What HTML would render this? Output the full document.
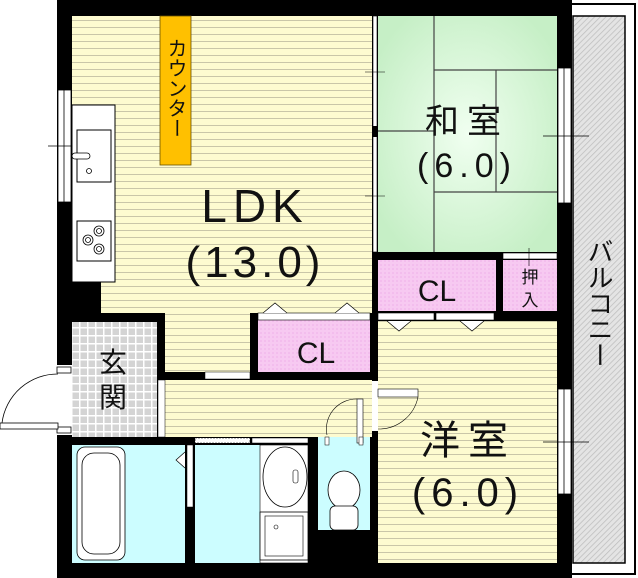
<!DOCTYPE html>
<html><head><meta charset="utf-8"><style>
html,body{margin:0;padding:0;background:#fff}
svg{display:block}
text{font-family:"Liberation Sans","Noto Sans CJK JP",sans-serif;fill:#111}
</style></head><body>
<svg width="638" height="578" viewBox="0 0 638 578" xmlns="http://www.w3.org/2000/svg">
<defs>
<pattern id="st" width="8" height="7" patternUnits="userSpaceOnUse">
<rect width="8" height="7" fill="#fdfbd0"/><line x1="0" y1="6.5" x2="8" y2="6.5" stroke="#c9c6a8" stroke-width="1"/></pattern>
<pattern id="tile" width="8" height="8" patternUnits="userSpaceOnUse">
<rect width="8" height="8" fill="#fff"/><rect x="0.5" y="0.5" width="6.5" height="6.5" fill="#d4d4d4"/></pattern>
<pattern id="pk" width="4" height="4" patternUnits="userSpaceOnUse">
<rect width="4" height="4" fill="#f7c9f1"/><rect width="2" height="2" fill="#f3bded"/></pattern>
<pattern id="hatch" width="4" height="4" patternUnits="userSpaceOnUse" patternTransform="rotate(45)">
<rect width="4" height="4" fill="#e4e4e4"/><line x1="0" y1="0" x2="0" y2="4" stroke="#bdbdbd" stroke-width="1.5"/></pattern>
<radialGradient id="tg" cx="0.5" cy="0.5" r="0.6"><stop offset="0" stop-color="#f0fff0"/><stop offset="1" stop-color="#c6efc6"/></radialGradient>
</defs>

<rect x="561" y="4" width="74" height="570" fill="#fff" stroke="#000" stroke-width="2"/>
<rect x="573" y="16" width="52" height="547" fill="url(#hatch)" stroke="#000" stroke-width="1.5"/>
<text x="599" y="238" font-size="26" style="writing-mode:vertical-rl" text-anchor="start">バルコニー</text>

<rect x="57" y="0" width="515" height="578" fill="#000"/>

<rect x="72" y="16" width="300" height="266" fill="url(#st)"/>
<rect x="101" y="282" width="271" height="31" fill="url(#st)"/>
<rect x="165" y="313" width="85" height="59" fill="url(#st)"/>
<rect x="165" y="380" width="207" height="57" fill="url(#st)"/>
<rect x="205" y="372" width="45" height="7" fill="#fff" stroke="#000" stroke-width="0.5"/>
<rect x="160" y="16" width="31" height="149" fill="#ffc000" stroke="#6a5200" stroke-width="0.8"/>
<text x="175" y="38" font-size="20" style="writing-mode:vertical-rl" text-anchor="start">カウンター</text>
<rect x="72" y="105" width="43" height="177" fill="#fff" stroke="#000" stroke-width="1"/>
<rect x="77" y="130" width="34" height="52" fill="#fff" stroke="#000" stroke-width="1"/>
<rect x="72" y="153" width="18" height="6" rx="3" fill="#fff" stroke="#000" stroke-width="0.8"/>
<circle cx="89" cy="171" r="2.5" fill="#fff" stroke="#000" stroke-width="0.8"/>
<rect x="77" y="221" width="34" height="40" fill="#fff" stroke="#000" stroke-width="1"/>
<g fill="none" stroke="#000" stroke-width="0.8">
<circle cx="88" cy="240" r="5"/><circle cx="88" cy="240" r="2.5"/>
<circle cx="99" cy="231" r="5"/><circle cx="99" cy="231" r="2.5"/>
<circle cx="99" cy="249" r="5"/><circle cx="99" cy="249" r="2.5"/></g>
<rect x="58" y="90" width="13" height="112" fill="#fff" stroke="#000" stroke-width="0.8"/>
<line x1="64" y1="90" x2="64" y2="202" stroke="#000" stroke-width="0.8"/>
<line x1="48" y1="146" x2="72" y2="146" stroke="#000" stroke-width="0.8"/>

<text x="255" y="222" font-size="46" text-anchor="middle" letter-spacing="6">LDK</text>
<text x="255" y="277" font-size="44" text-anchor="middle" letter-spacing="4">(13.0)</text>

<rect x="72" y="322" width="85" height="115" fill="url(#tile)"/>
<text x="113" y="372" font-size="28" text-anchor="middle">玄</text>
<text x="113" y="407" font-size="28" text-anchor="middle">関</text>
<rect x="57" y="365" width="15" height="70" fill="#fff"/>
<rect x="57" y="367" width="14" height="6" fill="#fff" stroke="#000" stroke-width="0.8"/>
<rect x="57" y="427" width="14" height="6" fill="#fff" stroke="#000" stroke-width="0.8"/>
<rect x="0" y="423" width="58" height="6" fill="#fff" stroke="#000" stroke-width="0.8"/>
<path d="M2 423 A56 56 0 0 1 58 374" fill="none" stroke="#000" stroke-width="0.8"/>
<rect x="158" y="380" width="7" height="57" fill="#fff" stroke="#000" stroke-width="0.5"/>

<rect x="258" y="320" width="112" height="52" fill="url(#pk)"/>
<rect x="258" y="313" width="112" height="7" fill="#fff" stroke="#000" stroke-width="0.6"/>
<path d="M263 313 l12 -10 l12 10 M335 313 l12 -10 l12 10" fill="#fff" stroke="#000" stroke-width="0.7"/>
<text x="316" y="363" font-size="30" text-anchor="middle">CL</text>

<rect x="378" y="16" width="179" height="236" fill="url(#tg)"/>
<g stroke="#444" stroke-width="1.2" fill="none">
<line x1="434" y1="16" x2="434" y2="252"/>
<line x1="378" y1="131" x2="434" y2="131"/>
<line x1="434" y1="70" x2="557" y2="70"/>
<line x1="496" y1="70" x2="496" y2="192"/>
<line x1="434" y1="192" x2="557" y2="192"/>
</g>
<rect x="373" y="16" width="4" height="236" fill="#fff" stroke="#000" stroke-width="0.6"/>
<rect x="372" y="126" width="6" height="11" fill="#000"/>
<line x1="365" y1="72" x2="385" y2="72" stroke="#000" stroke-width="0.6"/>
<line x1="365" y1="196" x2="385" y2="196" stroke="#000" stroke-width="0.6"/>
<text x="467" y="133" font-size="34" text-anchor="middle" letter-spacing="8">和室</text>
<text x="467" y="177" font-size="34" text-anchor="middle" letter-spacing="6">(6.0)</text>
<rect x="558" y="68" width="13" height="135" fill="#fff" stroke="#000" stroke-width="0.8"/>
<line x1="564" y1="68" x2="564" y2="203" stroke="#000" stroke-width="0.8"/>
<line x1="543" y1="136" x2="589" y2="136" stroke="#000" stroke-width="0.8"/>

<rect x="378" y="260" width="118" height="51" fill="url(#pk)"/>
<text x="437" y="301" font-size="30" text-anchor="middle">CL</text>
<rect x="503" y="260" width="54" height="51" fill="url(#pk)"/>
<rect x="503" y="253" width="54" height="6" fill="#fff" stroke="#000" stroke-width="0.6"/>
<line x1="529" y1="248" x2="529" y2="266" stroke="#000" stroke-width="0.6"/>
<text x="530" y="283" font-size="17" text-anchor="middle">押</text>
<text x="530" y="306" font-size="17" text-anchor="middle">入</text>

<rect x="378" y="321" width="179" height="242" fill="url(#st)"/>
<rect x="378" y="313" width="56" height="7" fill="#fff" stroke="#000" stroke-width="0.6"/>
<rect x="436" y="313" width="58" height="7" fill="#fff" stroke="#000" stroke-width="0.6"/>
<path d="M387 321 l12 10 l12 -10 M460 321 l12 10 l12 -10" fill="#fff" stroke="#000" stroke-width="0.7"/>
<text x="468" y="454" font-size="40" text-anchor="middle" letter-spacing="8">洋室</text>
<text x="468" y="506" font-size="40" text-anchor="middle" letter-spacing="6">(6.0)</text>
<rect x="558" y="389" width="13" height="105" fill="#fff" stroke="#000" stroke-width="0.8"/>
<line x1="564" y1="389" x2="564" y2="494" stroke="#000" stroke-width="0.8"/>
<line x1="543" y1="442" x2="589" y2="442" stroke="#000" stroke-width="0.8"/>
<rect x="372" y="381" width="6" height="50" fill="#fff"/>
<rect x="378" y="389" width="40" height="8" fill="#fff" stroke="#000" stroke-width="0.6"/>
<path d="M418 397 A40 40 0 0 1 378 429" fill="none" stroke="#000" stroke-width="0.6"/>

<rect x="72" y="445" width="113" height="118" fill="#ccfdff"/>
<rect x="77" y="447" width="48" height="113" rx="8" fill="#fff" stroke="#000" stroke-width="0.8"/>
<rect x="82" y="453" width="38" height="101" rx="12" fill="#fff" stroke="#000" stroke-width="0.8"/>
<path d="M185 452 l-9 8 l9 8" fill="#fff" stroke="#000" stroke-width="0.7"/>
<rect x="187" y="445" width="6" height="62" fill="#fff" stroke="#000" stroke-width="0.5"/>
<rect x="195" y="445" width="113" height="118" fill="#ccfdff"/>
<rect x="195" y="438" width="55" height="5" fill="#fff" stroke="#000" stroke-width="0.6" stroke-dasharray="2 1"/>
<rect x="252" y="438" width="56" height="5" fill="#fff" stroke="#000" stroke-width="0.5"/>
<rect x="260" y="445" width="48" height="118" fill="#fff" stroke="#000" stroke-width="0.6"/>
<ellipse cx="285" cy="477" rx="22" ry="30" fill="#fff" stroke="#000" stroke-width="0.8"/>
<rect x="293" y="470" width="5" height="13" rx="2" fill="#fff" stroke="#000" stroke-width="0.6"/>
<rect x="260" y="512" width="48" height="48" fill="#fff" stroke="#000" stroke-width="0.8"/>
<rect x="265" y="516" width="38" height="40" fill="none" stroke="#000" stroke-width="0.6"/>
<circle cx="276" cy="527" r="2" fill="none" stroke="#000" stroke-width="0.6"/>
<rect x="318" y="445" width="52" height="85" fill="#ccfdff"/>
<rect x="318" y="437" width="52" height="9" fill="#ccfdff"/>
<ellipse cx="344" cy="490" rx="16" ry="19" fill="#fff" stroke="#000" stroke-width="0.8"/>
<rect x="330" y="506" width="28" height="24" rx="5" fill="#fff" stroke="#000" stroke-width="0.8"/>
<rect x="357" y="399" width="6" height="44" fill="#fff" stroke="#000" stroke-width="0.6"/>
<path d="M357 399 A30 30 0 0 0 327 435" fill="none" stroke="#000" stroke-width="0.6"/>
<rect x="325" y="437" width="4" height="8" fill="#fff" stroke="#000" stroke-width="0.5"/>
<rect x="359" y="437" width="4" height="8" fill="#fff" stroke="#000" stroke-width="0.5"/>
</svg>
</body></html>
